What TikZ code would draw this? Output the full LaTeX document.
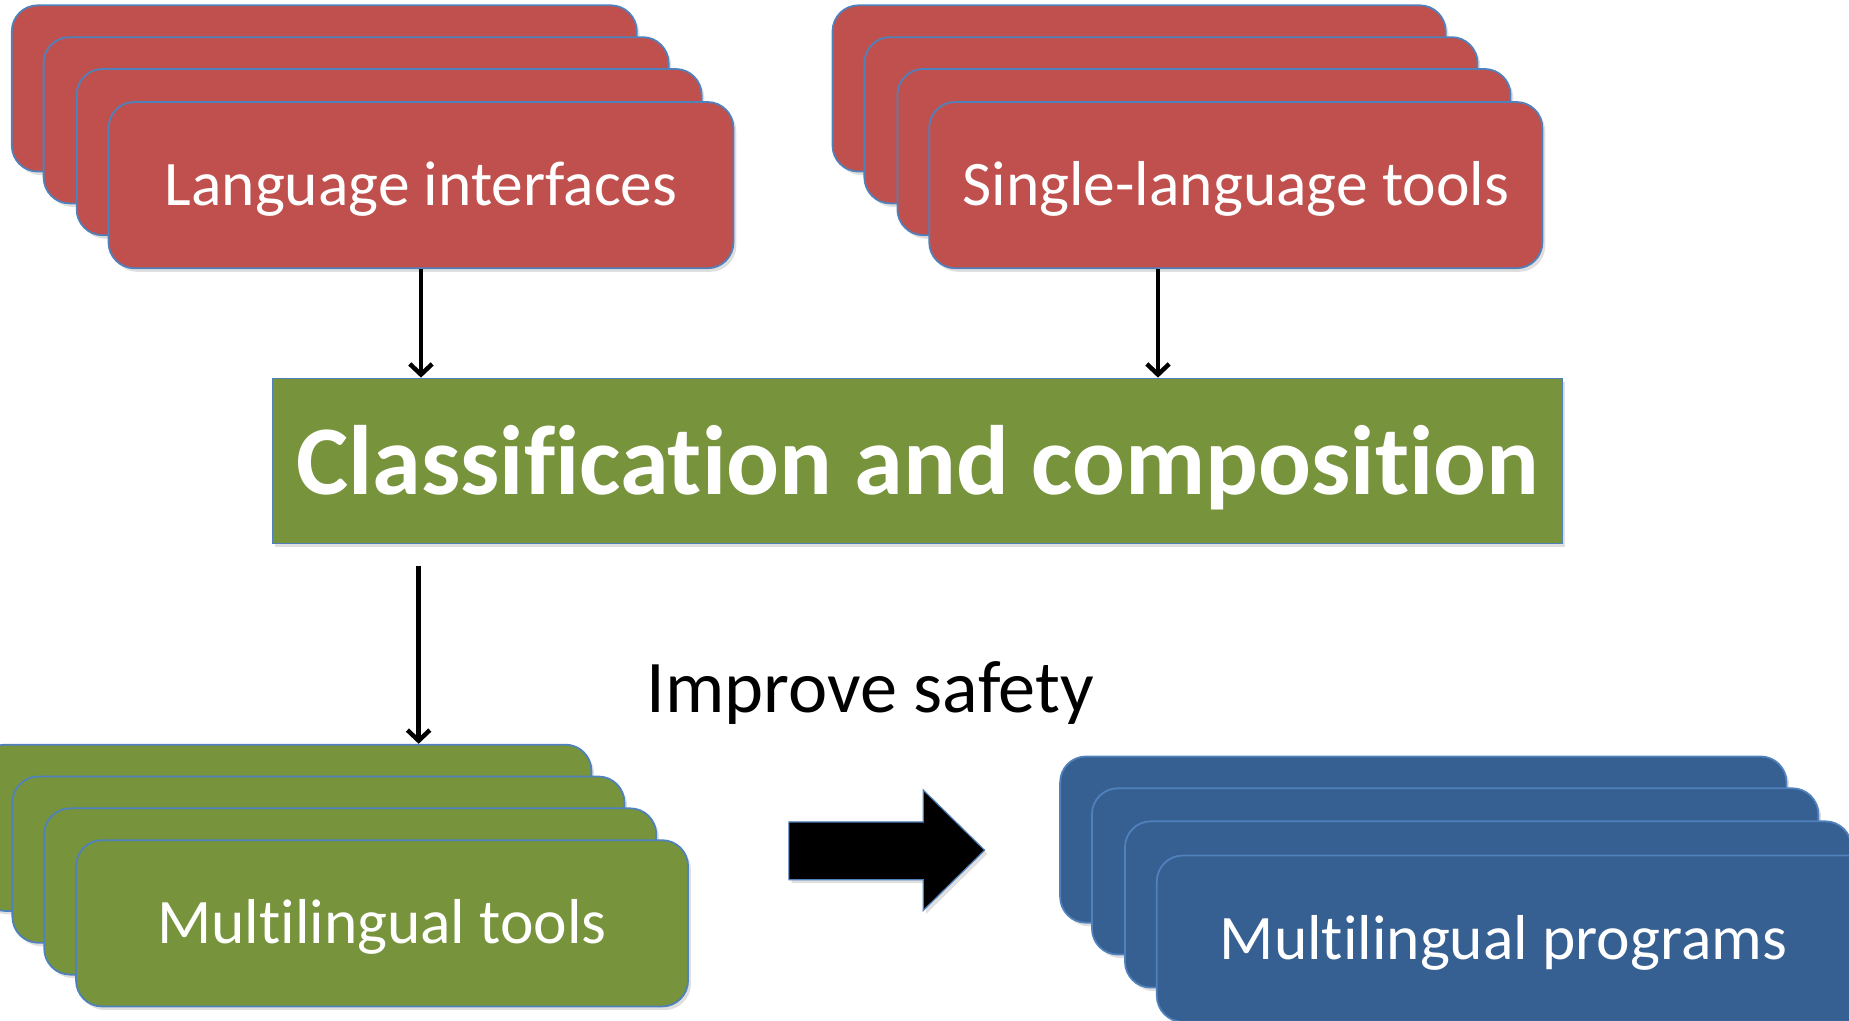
\documentclass[tikz,border=0pt]{standalone}
\usepackage{fontspec}
\setmainfont{Carlito}[Ligatures=NoCommon]
\usetikzlibrary{arrows.meta,shadows}
\definecolor{cardred}{HTML}{C0504D}
\definecolor{cardgreen}{HTML}{77933C}
\definecolor{cardblue}{HTML}{376092}
\definecolor{cardline}{HTML}{4F81BD}
\begin{document}
\begin{tikzpicture}[x=.5pt,y=-.5pt,line width=.75pt,
card/.style={draw=cardline,rounded corners=11pt,minimum height=70.5pt,inner sep=0pt,
  text=white,font=\fontsize{26.9}{30}\selectfont,text height=23.5pt,text depth=6pt,
  drop shadow={shadow xshift=1.2pt,shadow yshift=-1.5pt,opacity=.25}},
arr/.style={-{Straight Barb[length=4.5pt,width=9.5pt]},line width=1.9pt}]
\useasboundingbox (0,0) rectangle (1568,865);
\node[card,fill=cardred,minimum width=265pt] (li0) at (275,75) {};
\node[card,fill=cardred,minimum width=265pt] (li1) at (302,102) {};
\node[card,fill=cardred,minimum width=265pt] (li2) at (330,129) {};
\node[card,fill=cardred,minimum width=265pt] (li3) at (357,157) {Language interfaces};
\node[card,fill=cardred,minimum width=260pt] (sl0) at (966,75) {};
\node[card,fill=cardred,minimum width=260pt] (sl1) at (993,102) {};
\node[card,fill=cardred,minimum width=260pt] (sl2) at (1021,129) {};
\node[card,fill=cardred,minimum width=260pt] (sl3) at (1048,157) {Single-language tools};
\node[draw=cardline,fill=cardgreen,minimum width=547pt,minimum height=70pt,inner sep=0pt,
  text=white,font=\bfseries\fontsize{41.8}{48}\selectfont,text height=37pt,text depth=9pt,
  drop shadow={shadow xshift=1.2pt,shadow yshift=-1.5pt,opacity=.25}] (cls) at (778,391)
  {Classification and composition};
\node[card,fill=cardgreen,minimum width=259.5pt] (mt0) at (242,702) {};
\node[card,fill=cardgreen,minimum width=259.5pt] (mt1) at (270,729) {};
\node[card,fill=cardgreen,minimum width=259.5pt] (mt2) at (297,756) {};
\node[card,fill=cardgreen,minimum width=259.5pt] (mt3) at (324,783) {Multilingual tools};
\node[card,fill=cardblue,minimum width=308pt] (mp0) at (1207,712) {};
\node[card,fill=cardblue,minimum width=308pt] (mp1) at (1234,739) {};
\node[card,fill=cardblue,minimum width=308pt] (mp2) at (1262,767) {};
\node[card,fill=cardblue,minimum width=308pt] (mp3) at (1289,796) {\hspace*{-14pt}Multilingual programs};
\node[font=\fontsize{31.5}{36}\selectfont] (imp) at (738,588) {Improve safety};
\draw[fill=black,draw=cardline,line width=.5pt,
  drop shadow={shadow xshift=1.2pt,shadow yshift=-1.5pt,opacity=.25}]
  (669,697) -- (783,697) -- (783,670) -- (835,721) -- (783,772) -- (783,746) -- (669,746) -- cycle;
\draw[arr] (li3.south) -- (li3.south |- cls.north);
\draw[arr] ([xshift=-33pt]sl3.south) -- ([xshift=-33pt]sl3.south |- cls.north);
\draw[arr] ([xshift=-211.5pt,yshift=-9pt]cls.south) -- ([xshift=-211.5pt]cls.south |- mt0.north);
\end{tikzpicture}
\end{document}
